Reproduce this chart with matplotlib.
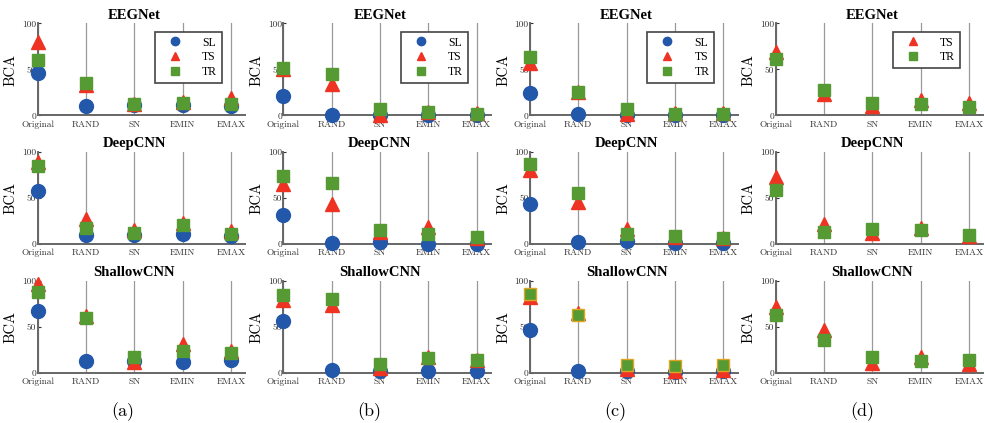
import matplotlib
matplotlib.use("Agg")
import matplotlib.pyplot as plt
from matplotlib.lines import Line2D

# --- data: rows = EEGNet, DeepCNN, ShallowCNN ; cols = attack types ---
models = ["EEGNet", "DeepCNN", "ShallowCNN"]
attacks = ["Original", "RAND", "SN", "EMIN", "EMAX"]
panel_labels = ["(a)", "(b)", "(c)", "(d)"]

sl_a = [[46.5, 10, 11, 11, 10.5], [58, 10, 9.5, 10.5, 9], [67, 13, 13, 12, 14]]
ts_a = [[80, 33, 12, 15, 19], [89, 27, 15, 23, 14], [96, 62, 12, 31, 24]]
tr_a = [[60, 35, 12, 14, 12.5], [85, 17, 12, 21, 11], [88, 60, 17, 24, 21]]

sl_b = [[21.5, 1, 1, 1, 1], [32, 1, 2, 0.5, 0.5], [56, 3, 2, 2, 2]]
ts_b = [[50, 34, 1, 4, 3], [65, 44, 13, 19, 6], [79, 74, 5, 17, 14]]
tr_b = [[52, 45, 7, 3.5, 2], [74, 66, 15, 11, 8], [85, 80, 10, 16, 14]]

sl_c = [[24, 2, 1, 1, 1], [43, 2, 3, 1, 1], [46, 2, 2, 1, 2]]
ts_c = [[57, 26, 2, 3, 3], [80, 46, 16, 8, 6], [82, 65, 4, 2, 3]]
tr_c = [[64, 26, 7, 2, 2], [87, 55, 11, 9, 6], [86, 63, 8, 7, 8]]

ts_d = [[69, 23, 10, 17, 14], [73, 22, 12, 17, 9], [71, 46, 11, 17, 9]]
tr_d = [[61, 28, 14, 13, 9], [59, 13, 16, 15, 10], [63, 36, 17, 13, 14]]

columns = [
    {"SL": sl_a, "TS": ts_a, "TR": tr_a},
    {"SL": sl_b, "TS": ts_b, "TR": tr_b},
    {"SL": sl_c, "TS": ts_c, "TR": tr_c},
    {"TS": ts_d, "TR": tr_d},
]

# --- style ---
BLUE = "#2257aa"
RED = "#ee3322"
GREEN = "#559a32"
GOLD = "#e0a520"
styles = {
    "SL": dict(marker="o", color=BLUE, ms=10),
    "TS": dict(marker="^", color=RED, ms=10),
    "TR": dict(marker="s", color=GREEN, ms=8.5),
}

plt.rcParams["axes.formatter.use_mathtext"] = True
fig = plt.figure(figsize=(9.85, 4.23), dpi=100)

W, H = 985.0, 423.0
col_left = [37.7, 283.3, 530.0, 775.7]
row_zero = [115.5, 244.0, 372.7]
ax_w = 207.7
ax_h = 92.0
XMAX = 4.3

for c, series in enumerate(columns):
    for r, model in enumerate(models):
        ax = fig.add_axes([col_left[c] / W, (H - row_zero[r]) / H, ax_w / W, ax_h / H])
        x = range(len(attacks))
        for i in x:
            ax.plot([i, i], [0, 100], color="#9a9a9a", lw=0.9, zorder=0)
        for name in ["SL", "TS", "TR"]:
            if name not in series:
                continue
            st = styles[name]
            edge = st["color"]
            if c == 2 and r == 2 and name == "TR":
                edge = GOLD
            ax.plot(list(x), series[name][r], ls="none", marker=st["marker"],
                    ms=st["ms"], mfc=st["color"], mec=edge, mew=1.0,
                    clip_on=False, zorder=3)
        ax.set_xlim(0, XMAX)
        ax.set_ylim(0, 100)
        ax.set_xticks(list(x))
        ax.set_xticklabels(attacks, family="cmr10", fontsize=6.8, color="#333333")
        ax.set_yticks([0, 50, 100])
        ax.set_yticklabels(["0", "50", "100"], family="cmr10", fontsize=6.8, color="#333333")
        ax.tick_params(axis="x", length=0, pad=3.5)
        ax.tick_params(axis="y", direction="in", length=2.5, width=0.8, pad=1, colors="#333333")
        for s in ["top", "right"]:
            ax.spines[s].set_visible(False)
        for s in ["left", "bottom"]:
            ax.spines[s].set_color("#666666")
            ax.spines[s].set_linewidth(1.4)
        ax.set_ylabel("BCA", family="cmr10", fontsize=10.5)
        ax.yaxis.set_label_coords(-0.095, 0.5)
        ax.text(2, 109, model, ha="center", va="center", family="Liberation Serif",
                fontweight="bold", fontsize=10.5)
        if r == 0:
            handles = [Line2D([], [], ls="none", marker=styles[n]["marker"],
                              ms=styles[n]["ms"] * 0.6, color=styles[n]["color"])
                       for n in series]
            leg = ax.legend(handles, list(series.keys()), loc="upper right",
                            bbox_to_anchor=(0.887, 0.91), fancybox=False,
                            framealpha=1, edgecolor="#444444",
                            handlelength=2.6, handletextpad=1.0, borderpad=0.4,
                            labelspacing=0.25, borderaxespad=0,
                            prop={"family": "Liberation Serif", "size": 8.5})
            leg.get_frame().set_linewidth(1.2)

for c, lab in enumerate(panel_labels):
    fig.text(0.125 + 0.25 * c, 0.028, lab, ha="center", va="center",
             family="cmr10", fontsize=13)

fig.savefig("out.png", dpi=100)
